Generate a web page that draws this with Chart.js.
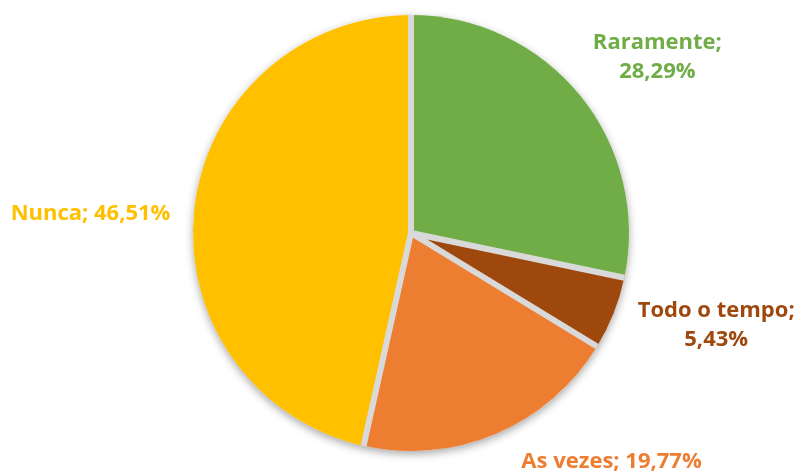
<!DOCTYPE html>
<html>
<head>
<meta charset="utf-8">
<script src="https://cdn.jsdelivr.net/npm/chart.js@4"></script>
<style>
  html, body { margin: 0; padding: 0; background: #fff; }
  #wrap { width: 804px; height: 472px; }
</style>
</head>
<body>
<div id="wrap"><canvas id="pie" width="804" height="472"></canvas></div>
<script>
// data
const categories = ['Raramente', 'Todo o tempo', 'As vezes', 'Nunca'];
const percents = [28.29, 5.43, 19.77, 46.51];
const sliceColors = ['#70AD47', '#9E480E', '#ED7D31', '#FFC000'];
// label anchors, as multiples of the pie radius from its centre
const labelAnchors = [[1.13, -0.81], [1.40, 0.42], [0.92, 1.05], [-1.47, -0.09]];
// which labels are split on two lines
const labelTwoLines = [true, true, false, false];

const fmt = v => v.toFixed(2).replace('.', ',') + '%';

// soft shadow under the pie
const pieShadow = {
  id: 'pieShadow',
  beforeDatasetsDraw(chart) {
    const arc = chart.getDatasetMeta(0).data[0];
    const ctx = chart.ctx;
    ctx.save();
    ctx.shadowColor = 'rgba(0,0,0,0.35)';
    ctx.shadowBlur = 9;
    ctx.shadowOffsetY = 3;
    ctx.fillStyle = '#ffffff';
    ctx.beginPath();
    ctx.arc(arc.x, arc.y, arc.outerRadius, 0, Math.PI * 2);
    ctx.fill();
    ctx.restore();
  }
};

// grey separators and the outside labels
const pieLabels = {
  id: 'pieLabels',
  afterDatasetsDraw(chart) {
    const ctx = chart.ctx;
    const arcs = chart.getDatasetMeta(0).data;
    ctx.save();
    ctx.strokeStyle = '#d9d9d9';
    ctx.lineWidth = 6;
    ctx.lineCap = 'butt';
    arcs.forEach(a => {
      ctx.beginPath();
      ctx.moveTo(a.x, a.y);
      ctx.lineTo(a.x + Math.cos(a.startAngle) * a.outerRadius, a.y + Math.sin(a.startAngle) * a.outerRadius);
      ctx.stroke();
    });

    ctx.font = 'bold 22px "Open Sans", Lato, sans-serif';
    ctx.textAlign = 'center';
    ctx.textBaseline = 'middle';
    arcs.forEach((a, i) => {
      const cx = a.x + labelAnchors[i][0] * a.outerRadius;
      const cy = a.y + labelAnchors[i][1] * a.outerRadius;
      ctx.fillStyle = sliceColors[i];
      if (labelTwoLines[i]) {
        ctx.fillText(categories[i] + ';', cx, cy - 14);
        ctx.fillText(fmt(percents[i]), cx, cy + 15);
      } else {
        ctx.fillText(categories[i] + '; ' + fmt(percents[i]), cx, cy);
      }
    });
    ctx.restore();
  }
};

new Chart(document.getElementById('pie'), {
  type: 'pie',
  data: {
    labels: categories,
    datasets: [{
      data: percents,
      backgroundColor: sliceColors,
      borderWidth: 0
    }]
  },
  options: {
    responsive: false,
    animation: false,
    layout: { padding: { top: 15, bottom: 21, left: 18, right: 0 } },
    plugins: {
      legend: { display: false },
      tooltip: { enabled: false }
    }
  },
  plugins: [pieShadow, pieLabels]
});
</script>
</body>
</html>
